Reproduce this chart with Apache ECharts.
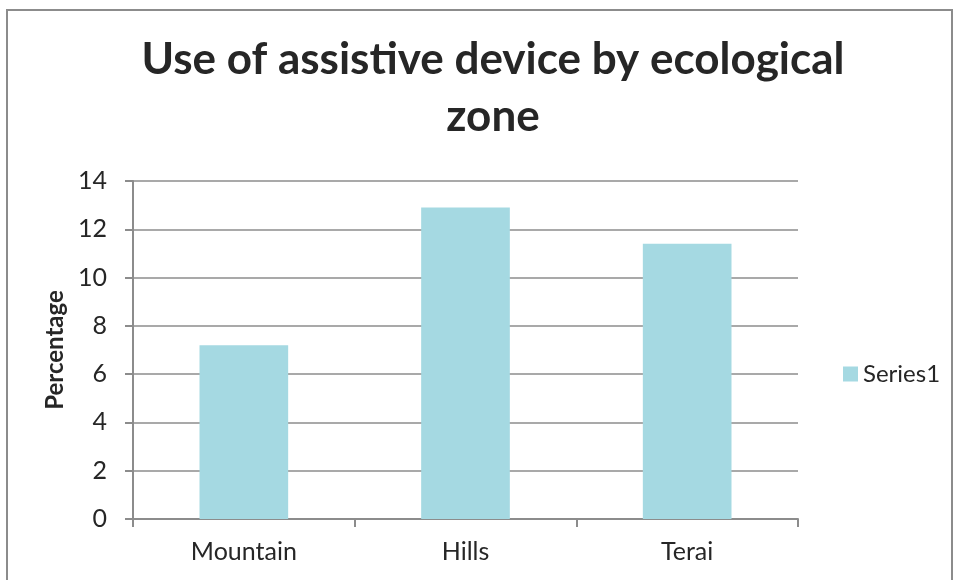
<!DOCTYPE html>
<html>
<head>
<meta charset="utf-8">
<script src="https://cdn.jsdelivr.net/npm/echarts@6/dist/echarts.min.js"></script>
<style>
  html, body { margin: 0; padding: 0; background: #fff; }
  #chart { width: 954px; height: 580px; }
</style>
</head>
<body>
<div id="chart"></div>
<script>
// 数据
const zones = ['Mountain', 'Hills', 'Terai']
const series1 = [7.2, 12.9, 11.4]
const yTicks = { min: 0, max: 14, interval: 2 }

const font = 'Lato, "Open Sans", sans-serif'
const textColor = '#262626'
const lineColor = '#8c8c8c'

const chart = echarts.init(document.getElementById('chart'))
const option = {
    animation: false,
    title: {
        text: 'Use of assistive device by ecological\nzone',
        left: 488,
        textAlign: 'center',
        top: 26,
        textStyle: {
            fontFamily: font,
            fontSize: 44,
            fontWeight: 'bold',
            color: textColor,
            lineHeight: 57
        }
    },
    legend: {
        data: ['Series1'],
        left: 838,
        top: 357,
        itemWidth: 15,
        itemHeight: 15,
        itemGap: 6,
        icon: 'rect',
        textStyle: { fontFamily: font, fontSize: 24, color: textColor }
    },
    grid: { left: 133, right: 156, top: 181, bottom: 61 },
    xAxis: {
        type: 'category',
        data: zones,
        boundaryGap: true,
        axisLine: { lineStyle: { color: lineColor, width: 2 } },
        axisTick: { show: true, length: 8, alignWithLabel: false, lineStyle: { color: lineColor, width: 2 } },
        axisLabel: { fontFamily: font, fontSize: 25, color: textColor, margin: 20 }
    },
    yAxis: {
        type: 'value',
        min: yTicks.min,
        max: yTicks.max,
        interval: yTicks.interval,
        name: 'Percentage',
        nameLocation: 'middle',
        nameGap: 61,
        nameRotate: 90,
        nameTextStyle: { fontFamily: font, fontSize: 24, fontWeight: 'bold', color: textColor },
        axisLine: { show: true, lineStyle: { color: lineColor, width: 2 } },
        axisTick: { show: true, length: 8, lineStyle: { color: lineColor, width: 2 } },
        axisLabel: { fontFamily: font, fontSize: 25, color: textColor, margin: 26 },
        splitLine: { lineStyle: { color: lineColor, width: 1.5 } }
    },
    series: [{
        name: 'Series1',
        type: 'bar',
        data: series1,
        barWidth: '40%',
        itemStyle: { color: '#a5d9e2' }
    }],
    graphic: [{
        type: 'rect',
        shape: { x: 7, y: 10, width: 945, height: 600 },
        style: { fill: 'none', stroke: '#8c8c8c', lineWidth: 2 },
        silent: true
    }]
}
chart.setOption(option)
</script>
</body>
</html>
